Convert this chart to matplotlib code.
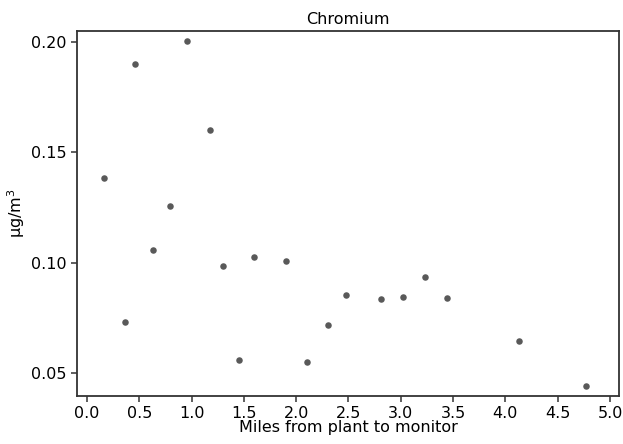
import matplotlib
matplotlib.use("Agg")
import matplotlib.pyplot as plt

# miles from plant to monitor vs chromium concentration
miles = [0.16, 0.36, 0.46, 0.63, 0.79, 0.96, 1.18, 1.30, 1.45, 1.60,
         1.90, 2.10, 2.30, 2.48, 2.81, 3.02, 3.23, 3.44, 4.13, 4.77]
chromium = [0.1381, 0.0731, 0.1899, 0.1059, 0.1257, 0.2005, 0.1600, 0.0986, 0.0560, 0.1027,
            0.1006, 0.0552, 0.0716, 0.0852, 0.0836, 0.0846, 0.0933, 0.0841, 0.0645, 0.0442]

xticks = [0.0, 0.5, 1.0, 1.5, 2.0, 2.5, 3.0, 3.5, 4.0, 4.5, 5.0]
yticks = [0.05, 0.10, 0.15, 0.20]

fig = plt.figure(figsize=(6.23, 4.44), dpi=100)
ax = fig.add_axes([0.124, 0.108, 0.8696, 0.822])
ax.scatter(miles, chromium, s=22, color="#595959", linewidths=0, zorder=3)

ax.set_xlim(-0.093, 5.086)
ax.set_ylim(0.0396, 0.2048)
ax.set_xticks(xticks)
ax.set_xticklabels([f"{t:.1f}" for t in xticks])
ax.set_yticks(yticks)
ax.set_yticklabels([f"{t:.2f}" for t in yticks])
ax.tick_params(direction="out", length=4.5, width=1.1, labelsize=11.5,
               color="#333333", labelcolor="black", pad=3)
for sp in ax.spines.values():
    sp.set_linewidth(1.3)
    sp.set_color("#333333")

ax.set_title("Chromium", fontsize=11.5, pad=5)
ax.set_xlabel("Miles from plant to monitor", fontsize=11.5, labelpad=-1)
ax.set_ylabel("μg/m$^3$", fontsize=11.5, labelpad=3)

plt.savefig("out.png", dpi=100)
